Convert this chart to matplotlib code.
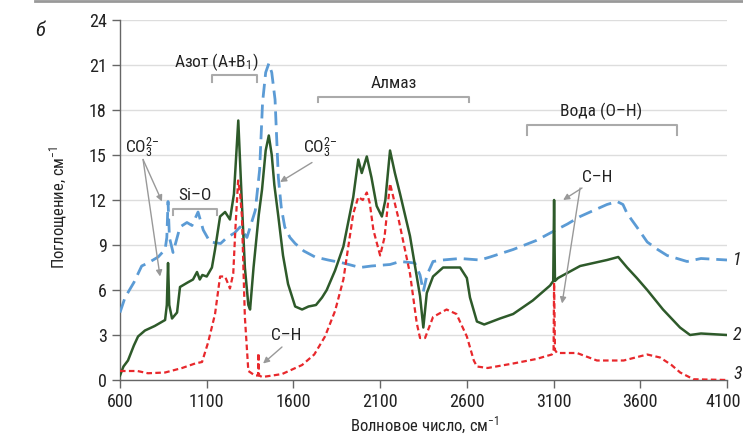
import matplotlib
matplotlib.use("Agg")
import matplotlib.pyplot as plt
from matplotlib import font_manager as fm
from matplotlib.lines import Line2D
from matplotlib.transforms import ScaledTranslation

names = {f.name for f in fm.fontManager.ttflist}
FONT = "Roboto"
for cand in ["Roboto Condensed", "Liberation Sans Narrow", "Open Sans Condensed", "Noto Sans Condensed"]:
    if cand in names:
        FONT = cand
        break
plt.rcParams['font.family'] = [FONT, 'DejaVu Sans']
plt.rcParams['mathtext.fontset'] = 'custom'
plt.rcParams['mathtext.rm'] = FONT
plt.rcParams['mathtext.it'] = FONT + ':italic'
plt.rcParams['mathtext.default'] = 'regular'

# ---- data ----
x_ticks = [600, 1100, 1600, 2100, 2600, 3100, 3600, 4100]
y_ticks = [0, 3, 6, 9, 12, 15, 18, 21, 24]

x1 = [600, 629, 680, 725, 761, 820, 860, 870, 877, 885, 906, 946, 986, 1015, 1050, 1080,
      1119, 1180, 1217, 1260, 1292, 1332, 1380, 1405, 1422, 1440, 1458, 1475, 1494, 1513, 1530,
      1550, 1580, 1610, 1660, 1725, 1800, 1886, 1984, 2050, 2157, 2215, 2300, 2330, 2349, 2370, 2405, 2460,
      2561, 2676, 2734, 2867, 3000, 3097, 3180, 3253, 3330, 3408, 3466, 3500, 3524, 3580, 3640, 3700, 3755,
      3870, 3950, 4100]
y1 = [4.5, 5.5, 6.5, 7.6, 7.8, 8.2, 8.7, 9.5, 11.9, 9.5, 8.5, 10.2, 10.5, 10.3, 11.2, 10.0,
      9.2, 9.1, 9.5, 9.8, 10.2, 9.5, 11.3, 14.0, 18.5, 20.5, 21.1, 20.5, 18.7, 13.5, 11.5,
      10.2, 9.5, 9.1, 8.6, 8.2, 8.0, 7.8, 7.5, 7.6, 7.7, 7.9, 7.8, 7.0, 5.9, 7.0, 7.9, 8.0,
      8.1, 8.0, 8.2, 8.7, 9.3, 9.9, 10.4, 10.9, 11.3, 11.7, 11.9, 11.7, 11.1, 10.2, 9.2, 8.7, 8.3,
      7.9, 8.1, 8.0]

x2 = [600, 620, 646, 680, 704, 744, 800, 860, 870, 877, 884, 900, 929, 946, 990, 1021, 1044,
      1060, 1075, 1100, 1130, 1148, 1177, 1206, 1234, 1257, 1282, 1300, 1320, 1340,
      1350, 1370, 1400, 1419, 1440, 1458, 1475, 1490, 1513, 1540, 1569, 1610, 1650, 1687, 1730, 1765,
      1792, 1840, 1888, 1945, 1974, 1994, 2023, 2050, 2080, 2110, 2130, 2157, 2185, 2215, 2272, 2330,
      2349, 2369, 2405, 2463, 2561, 2600, 2618, 2658, 2700, 2791, 2867, 2980, 3080, 3098, 3103,
      3108, 3126, 3253, 3408, 3473, 3524, 3580, 3640, 3731, 3829, 3887, 3950, 4100]
y2 = [0.3, 0.9, 1.3, 2.3, 2.9, 3.3, 3.6, 4.0, 5.0, 7.8, 5.0, 4.1, 4.5, 6.2, 6.5, 6.7, 7.2,
      6.7, 7.0, 6.9, 7.5, 8.7, 10.9, 11.2, 10.7, 12.4, 17.3, 12.5, 7.5, 5.0,
      4.7, 7.5, 11.0, 12.7, 15.3, 16.3, 15.0, 13.0, 10.9, 8.3, 6.4, 4.9, 4.7, 4.9, 5.0, 5.5,
      6.0, 7.3, 8.9, 12.2, 14.7, 13.8, 14.9, 13.5, 11.6, 10.9, 12.0, 15.3, 13.8, 12.4, 9.6, 5.6,
      3.5, 5.8, 6.9, 7.5, 7.5, 6.8, 5.5, 3.9, 3.7, 4.1, 4.4, 5.3, 6.3, 6.6, 12.0,
      6.6, 6.8, 7.6, 8.0, 8.2, 7.5, 6.8, 6.0, 4.7, 3.5, 3.0, 3.1, 3.0]

x3 = [600, 700, 761, 860, 958, 1033, 1073, 1108, 1148, 1177, 1206, 1234, 1253, 1265, 1281, 1292, 1303,
      1320, 1340, 1378, 1396, 1398, 1402, 1420, 1480, 1535, 1650, 1720, 1782, 1840, 1888, 1945, 1974,
      2000, 2023, 2040, 2061, 2100, 2125, 2157, 2180, 2203, 2272, 2311, 2330, 2359, 2405, 2483, 2540,
      2600, 2640, 2658, 2720, 2867, 3000, 3090, 3100, 3103, 3108, 3120, 3235, 3350, 3504, 3640, 3714,
      3780, 3830, 3907, 4100]
y3 = [0.6, 0.6, 0.45, 0.5, 0.8, 1.1, 1.2, 2.5, 4.4, 6.9, 6.9, 6.1, 7.1, 10.0, 13.3, 12.5, 10.9,
      4.2, 0.6, 0.3, 0.3, 1.8, 0.3, 0.2, 0.3, 0.4, 1.0, 1.7, 2.9, 4.6, 6.7, 11.1, 12.2,
      12.0, 12.5, 11.8, 10.0, 8.3, 9.5, 13.1, 12.0, 10.9, 7.1, 3.8, 2.8, 2.8, 4.2, 4.7, 4.4,
      2.9, 1.3, 0.9, 0.8, 1.1, 1.4, 1.7, 2.0, 6.5, 2.0, 1.8, 1.8, 1.3, 1.3, 1.7, 1.5,
      1.0, 0.5, 0.05, 0.0]

series_labels = ["1", "2", "3"]

# ---- figure ----
fig = plt.figure(figsize=(7.43, 4.40), dpi=100)
ax = fig.add_axes([120/743, 1-380/440, 607/743, 360/440])

ax.plot(x1, y1, color='#5b9bd5', lw=2.0, dashes=(5, 2.5), zorder=3)
ax.plot(x2, y2, color='#2e5a2a', lw=1.8, zorder=4)
ax.plot(x3, y3, color='#e8282c', lw=1.6, dashes=(2.5, 1.5), zorder=5)

ax.set_xlim(600, 4100)
ax.set_ylim(0, 24)
ax.set_xticks(x_ticks)
ax.set_yticks(y_ticks)
ax.tick_params(axis='both', labelsize=13, colors='#222222', length=6, width=1, direction='out')
ax.tick_params(axis='both', color='#666666')
ax.grid(axis='y', color='#dddddd', lw=1)
ax.set_axisbelow(True)
for s in ['top', 'right']:
    ax.spines[s].set_visible(False)
for s in ['left', 'bottom']:
    ax.spines[s].set_color('#666666')
    ax.spines[s].set_linewidth(1)

# nudge the last x tick label so it stays inside the figure
last = ax.get_xticklabels()[-1]
last.set_transform(last.get_transform() + ScaledTranslation(-4/100, 0, fig.dpi_scale_trans))

fig.text(58/743, 1-207/440, 'Поглощение, см$^{-1}$', rotation=90, ha='center', va='center',
         fontsize=12, color='#222222')
fig.text(425/743, 1-425/440, 'Волновое число, см$^{-1}$', ha='center', va='center',
         fontsize=12, color='#222222')
fig.text(40/743, 1-30/440, 'б', ha='center', va='center', fontsize=15, style='italic', color='#222222')

# top border line
fig.add_artist(Line2D([35/743, 1], [1-1.5/440, 1-1.5/440], color='#999999', lw=2))

tc = '#222222'
fs = 12.5
ac = '#999999'

def bracket(xa, xb, ytop, ybot):
    ax.plot([xa, xa, xb, xb], [ybot, ytop, ytop, ybot], color='#aaaaaa', lw=1.5, clip_on=False, zorder=2)

ax.text(1157, 21.2, 'Азот (A+B$_1$)', ha='center', va='center', fontsize=fs, color=tc)
bracket(1131, 1390, 20.3, 19.9)
ax.text(2180, 19.8, 'Алмаз', ha='center', va='center', fontsize=fs, color=tc)
bracket(1742, 2613, 18.9, 18.5)
ax.text(3374, 17.9, 'Вода (O–H)', ha='center', va='center', fontsize=fs, color=tc)
bracket(2947, 3812, 17.0, 16.3)
ax.text(1032, 12.3, 'Si–O', ha='center', va='center', fontsize=fs, color=tc)
bracket(906, 1160, 11.4, 11.0)

ax.text(727, 15.5, 'CO$_3^{2–}$', ha='center', va='center', fontsize=fs, color=tc)
ax.text(1753, 15.5, 'CO$_3^{2–}$', ha='center', va='center', fontsize=fs, color=tc)
ax.text(1557, 3.0, 'C–H', ha='center', va='center', fontsize=fs, color=tc)
ax.text(3351, 13.5, 'C–H', ha='center', va='center', fontsize=fs, color=tc)

aprops = dict(arrowstyle='-|>', color=ac, lw=1.0, mutation_scale=9, shrinkA=0, shrinkB=0)
for (xs, ys, xe, ye) in [(733, 14.7, 842, 11.9), (733, 14.7, 831, 6.9),
                         (1707, 14.5, 1523, 13.2), (1534, 2.2, 1425, 1.1),
                         (3264, 12.8, 3155, 12.0), (3253, 12.8, 3149, 5.1)]:
    ax.annotate('', xy=(xe, ye), xytext=(xs, ys), arrowprops=aprops, zorder=6)

for lab, yv in zip(series_labels, [8.0, 3.0, 0.4]):
    ax.text(4160, yv, lab, ha='center', va='center', fontsize=13, style='italic', color=tc, clip_on=False)

fig.savefig('out.png', dpi=100)
